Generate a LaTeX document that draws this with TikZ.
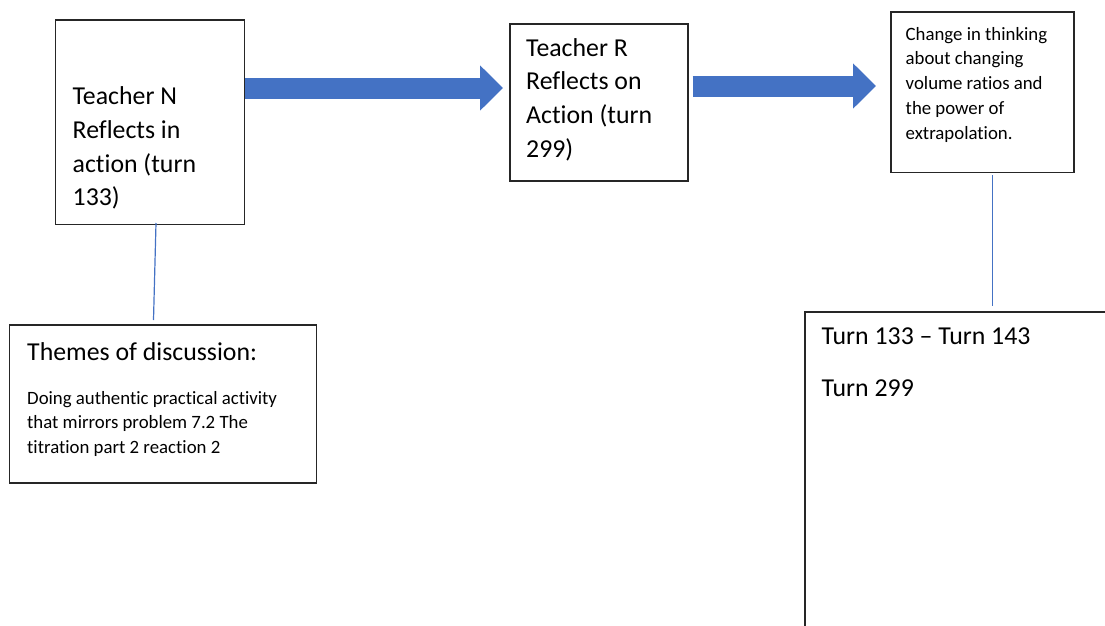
\documentclass[tikz,border=0pt]{standalone}
\usepackage{fontspec}
\setmainfont{Carlito}[Ligatures=CommonOff]
\usetikzlibrary{arrows.meta,calc}
\definecolor{officeblue}{HTML}{4472C4}
\definecolor{boxedge}{HTML}{262626}
\begin{document}
\begin{tikzpicture}[x=1pt,y=-1pt,
  box/.style={draw=boxedge,line width=1.6pt,fill=white,rectangle,inner sep=0pt,anchor=north west},
  % multi-line texts are placed by the baseline of their last line
  bigtext/.style={anchor=base west,inner sep=0pt,align=left,
    font=\fontsize{25.8}{33.8}\selectfont},
  smalltext/.style={anchor=base west,inner sep=0pt,align=left,
    font=\fontsize{18.8}{24.8}\selectfont},
  blockarrow/.style={line width=21pt,draw=officeblue,
    -{Triangle[length=23pt 0,width=44pt 0]}},
  link/.style={draw=officeblue,line width=1.2pt}]
\useasboundingbox (0,0) rectangle (1105,626);

% boxes
\node[box,minimum width=189pt,minimum height=204pt] (N) at (54.5,19.5) {};
\node[box,minimum width=178pt,minimum height=157pt] (R) at (509,23) {};
\node[box,minimum width=183pt,minimum height=160pt] (C) at (890,11.5) {};
\node[box,minimum width=307pt,minimum height=158pt] (T) at (8.5,324) {};
\node[box,minimum width=310pt,minimum height=330pt] (U) at (804,311) {};

% texts
\node[bigtext] (Ntext) at (72.5,205.9)
  {Teacher N\\Reflects in\\action (turn\\133)};
\node[bigtext] (Rtext) at (526,157.4)
  {Teacher R\\Reflects on\\Action (turn\\299)};
\node[smalltext] (Ctext) at (905.5,139.2)
  {Change in thinking\\about changing\\volume ratios and\\the power of\\extrapolation.};
\node[bigtext] (Ttitle) at (27,360) {Themes of discussion:};
\node[smalltext] (Ttext) at (27,453.6)
  {Doing authentic practical activity\\that mirrors problem 7.2 The\\titration part 2 reaction 2};
\node[bigtext] (Uline1) at (821.5,344) {Turn 133 -- Turn 143};
\node[bigtext] (Uline2) at (821.5,396.5) {Turn 299};

% block arrows between the reflection boxes
\draw[blockarrow] (N.east |- 0,88) -- ($(R.west |- 0,88)+(-6,0)$);
\draw[blockarrow] ($(R.east |- 0,86)+(4,0)$) -- ($(C.west |- 0,86)+(-14,0)$);

% thin links to the lower boxes
\coordinate (nlinktop) at (156,223);
\coordinate (nlinkbot) at (153.5,320);
\coordinate (clinktop) at (992.5,175);
\coordinate (clinkbot) at (992.5,305.5);
\draw[link] (nlinktop) -- (nlinkbot);
\draw[link] (clinktop) -- (clinkbot);
\end{tikzpicture}
\end{document}
